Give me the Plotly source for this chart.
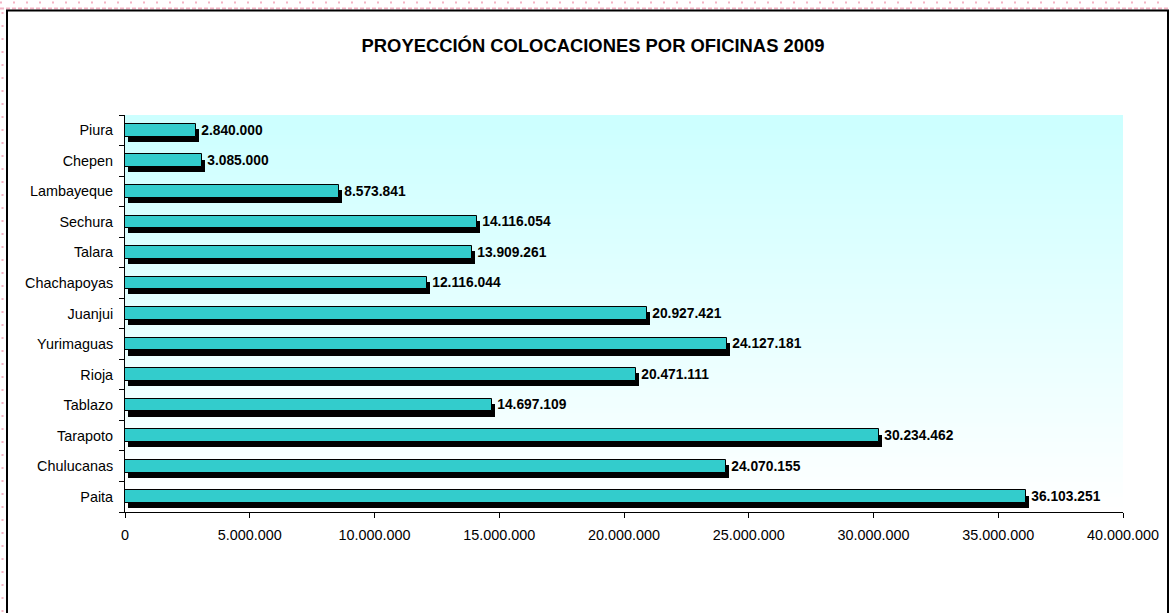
import plotly.graph_objects as go

# ---- data (bottom-to-top order as in the chart) ----
oficinas = ["Paita", "Chulucanas", "Tarapoto", "Tablazo", "Rioja", "Yurimaguas",
            "Juanjui", "Chachapoyas", "Talara", "Sechura", "Lambayeque", "Chepen", "Piura"]
colocaciones = [36103251, 24070155, 30234462, 14697109, 20471111, 24127181,
                20927421, 12116044, 13909261, 14116054, 8573841, 3085000, 2840000]
x_tickvals = [0, 5000000, 10000000, 15000000, 20000000, 25000000, 30000000, 35000000, 40000000]
titulo = "PROYECCIÓN COLOCACIONES POR OFICINAS 2009"

# ---- layout geometry (pixels) ----
W, H = 1170, 613
PL, PR, PT, PB = 125, 1123, 115, 512
XMAX = 40000000
px_x = XMAX / (PR - PL)           # data units per pixel on x
BAR_W = 0.415                     # bar thickness in category units
SH_DY = 0.17                      # shadow vertical shift (category units)
SH_DX = 3 * px_x                  # shadow horizontal shift (data units)

def paper_x(px):
    return (px - PL) / (PR - PL)

def paper_y(py):
    return (PB - py) / (PB - PT)

fig = go.Figure()

# shadow bars
fig.add_trace(go.Bar(
    y=oficinas, x=colocaciones, base=SH_DX, orientation="h",
    width=BAR_W, offset=-BAR_W / 2 - SH_DY,
    marker=dict(color="#000000", line=dict(width=0)),
    hoverinfo="skip", showlegend=False,
))
# face bars
fig.add_trace(go.Bar(
    y=oficinas, x=colocaciones, orientation="h",
    width=BAR_W, offset=-BAR_W / 2,
    marker=dict(color="#33CCCC", line=dict(color="#000000", width=1)),
    texttemplate="\u2009%{x:,.0f}", textposition="outside", constraintext="none",
    textfont=dict(family="Liberation Sans, Arial", size=13.8, color="#000000", weight="bold"),
    cliponaxis=False, showlegend=False,
))

shapes = []
# plot-area gradient (light cyan at top to white at bottom)
N = 80
c0 = (0xCC, 0xFF, 0xFF)
c1 = (0xFF, 0xFF, 0xFF)
for i in range(N):
    t = i / (N - 1)
    r = round(c0[0] + (c1[0] - c0[0]) * t)
    g = round(c0[1] + (c1[1] - c0[1]) * t)
    b = round(c0[2] + (c1[2] - c0[2]) * t)
    shapes.append(dict(type="rect", xref="paper", yref="paper",
                       x0=0, x1=1, y1=1 - i / N, y0=1 - (i + 1) / N - 0.002,
                       fillcolor=f"rgb({r},{g},{b})", line=dict(width=0), layer="below"))

# page-break decoration (pink dashed lines outside chart)
pink = "#F4B4C4"
shapes.append(dict(type="line", xref="paper", yref="paper",
                   x0=paper_x(0), x1=paper_x(W), y0=paper_y(8.5), y1=paper_y(8.5),
                   line=dict(color=pink, width=2, dash="4px,2px"), layer="above"))
shapes.append(dict(type="line", xref="paper", yref="paper",
                   x0=paper_x(0), x1=paper_x(W), y0=paper_y(2.5), y1=paper_y(2.5),
                   line=dict(color=pink, width=2, dash="2px,11px"), layer="above"))
shapes.append(dict(type="line", xref="paper", yref="paper",
                   x0=paper_x(2.5), x1=paper_x(2.5), y0=paper_y(12), y1=paper_y(H),
                   line=dict(color=pink, width=2, dash="2px,11px"), layer="above"))
# chart border
shapes.append(dict(type="rect", xref="paper", yref="paper",
                   x0=paper_x(7), x1=paper_x(1168), y0=paper_y(H + 20), y1=paper_y(10.5),
                   line=dict(color="#000000", width=2), fillcolor="rgba(0,0,0,0)", layer="above"))

fig.update_layout(
    width=W, height=H,
    margin=dict(l=PL, r=W - PR, t=PT, b=H - PB, pad=0),
    paper_bgcolor="#FFFFFF", plot_bgcolor="#FFFFFF",
    barmode="overlay", bargap=0,
    separators=",.",
    font=dict(family="Liberation Sans, Arial", size=14.4, color="#000000"),
    title=dict(text=titulo, x=593 / W, xref="container", xanchor="center",
               y=1 - 46 / H, yref="container", yanchor="middle",
               font=dict(family="Liberation Sans, Arial", size=18.4, color="#000000", weight="bold")),
    shapes=shapes,
    xaxis=dict(range=[0, XMAX], tickvals=x_tickvals, tickformat=",.0f",
               showgrid=False, zeroline=False, showline=True, linecolor="#000000", linewidth=1,
               ticks="outside", ticklen=5, tickcolor="#000000", ticklabelstandoff=5,
               tickfont=dict(size=14.4)),
    yaxis=dict(type="category", categoryorder="array", categoryarray=oficinas,
               showgrid=False, zeroline=False, showline=True, linecolor="#000000", linewidth=1,
               ticks="outside", ticklen=5, tickcolor="#000000", tickson="boundaries",
               ticklabelstandoff=8, tickfont=dict(size=14.4)),
)

fig.write_html("out.html", config={"displayModeBar": False},
               post_script="document.body.style.margin='0';document.body.style.overflow='hidden';")
